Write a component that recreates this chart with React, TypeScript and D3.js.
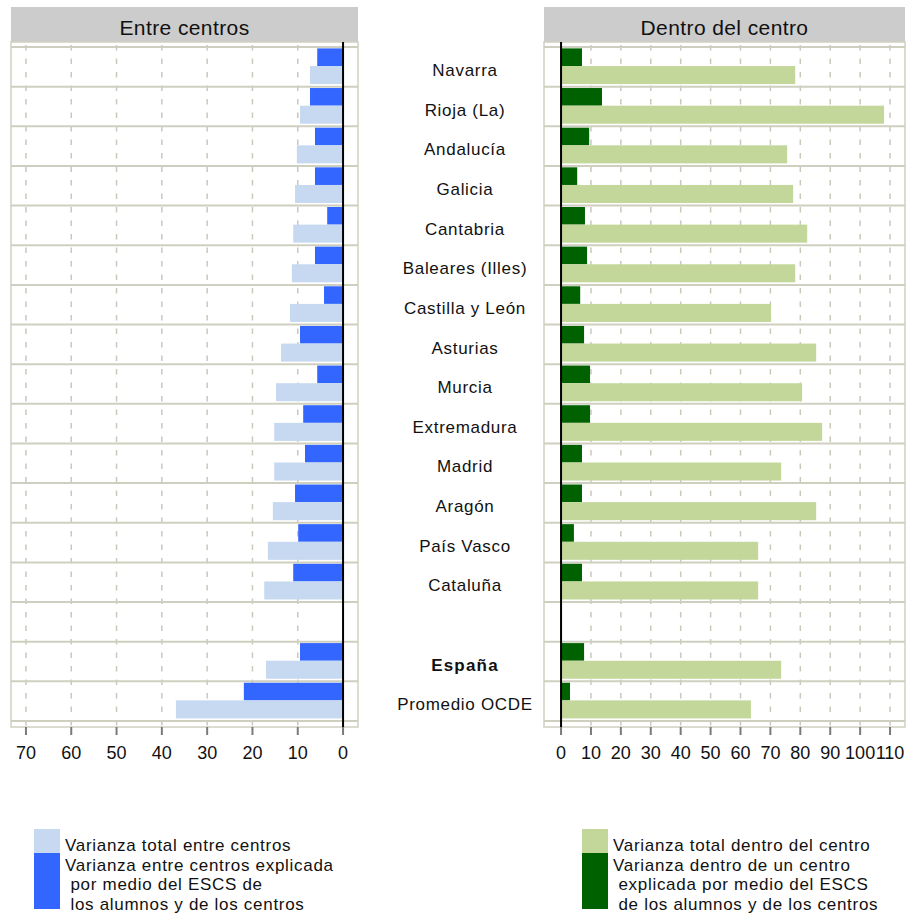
import React from "react";
import * as d3 from "d3";

const regions = [
  "Navarra", "Rioja (La)", "Andalucía", "Galicia", "Cantabria", "Baleares (Illes)",
  "Castilla y León", "Asturias", "Murcia", "Extremadura", "Madrid", "Aragón",
  "País Vasco", "Cataluña", "", "España", "Promedio OCDE",
];
const betweenTotal = [7.3, 9.5, 10.2, 10.6, 11.0, 11.3, 11.7, 13.7, 14.8, 15.2, 15.2, 15.5, 16.6, 17.4, null, 17.0, 36.9];
const betweenExplained = [5.7, 7.3, 6.2, 6.2, 3.5, 6.2, 4.2, 9.5, 5.7, 8.8, 8.4, 10.6, 9.9, 11.0, null, 9.5, 21.9];
const withinTotal = [78.3, 108.0, 75.6, 77.6, 82.3, 78.3, 70.2, 85.3, 80.6, 87.3, 73.6, 85.3, 65.9, 65.9, null, 73.6, 63.5];
const withinExplained = [7.0, 13.7, 9.4, 5.4, 8.0, 8.7, 6.4, 7.7, 9.7, 9.7, 7.0, 7.0, 4.3, 7.0, null, 7.7, 3.0];
const leftTicks = [70, 60, 50, 40, 30, 20, 10, 0];
const rightTicks = [0, 10, 20, 30, 40, 50, 60, 70, 80, 90, 100, 110];
const boldRegion = "España";

const panelTitles = ["Entre centros", "Dentro del centro"];
const legendLeft = ["Varianza total entre centros", "Varianza entre centros explicada", " por medio del ESCS de", " los alumnos y de los centros"];
const legendRight = ["Varianza total dentro del centro", "Varianza dentro de un centro", " explicada por medio del ESCS", " de los alumnos y de los centros"];

const FONT = "'Liberation Sans', Arial, sans-serif";
const GRID = "#c8c8bb";
const ROWLINE = "#cfcfc0";

const C = {
  lightBlue: "#c6d9f0",
  darkBlue: "#3366ff",
  lightGreen: "#c4d79b",
  darkGreen: "#006100",
};

const TOP = 42, BOTTOM = 727;

const y = d3.scaleBand<number>().domain(d3.range(regions.length)).range([47, 721]).padding(0);
const bw = y.bandwidth();

function Panel({ x, x0, x1, ticks, total, explained, light, dark, title }: any) {
  const xs = x;
  const zero = xs(0);
  return (
    <g>
      <rect x={x0} y={7} width={x1 - x0} height={35} fill="#cccccc" />
      <text x={(x0 + x1) / 2} y={35} textAnchor="middle" fontSize={21} fontFamily={FONT} fill="#111" letterSpacing={0.4}>{title}</text>
      <rect x={x0} y={TOP} width={x1 - x0} height={BOTTOM - TOP} fill="white" stroke={ROWLINE} strokeWidth={1.5} />
      {ticks.filter((t: number) => t !== 0).map((t: number) => (
        <line key={"g" + t} x1={xs(t)} x2={xs(t)} y1={TOP} y2={BOTTOM} stroke={GRID} strokeWidth={1.5} strokeDasharray="5.5,8" strokeDashoffset={-3} />
      ))}
      {d3.range(regions.length + 1).map((i) => {
        const yy = i < regions.length ? (y(i) as number) : (y(regions.length - 1) as number) + bw;
        return <line key={"r" + i} x1={x0} x2={x1} y1={yy} y2={yy} stroke={ROWLINE} strokeWidth={2} />;
      })}
      {regions.map((r, i) => {
        const t = total[i], e = explained[i];
        if (t == null) return null;
        const by = y(i) as number;
        return (
          <g key={"b" + i}>
            <rect x={Math.min(xs(e), zero)} y={by + bw * 0.035} width={Math.abs(xs(e) - zero)} height={bw * 0.445} fill={dark} />
            <rect x={Math.min(xs(t), zero)} y={by + bw * 0.48} width={Math.abs(xs(t) - zero)} height={bw * 0.455} fill={light} />
          </g>
        );
      })}
      <line x1={zero} x2={zero} y1={TOP} y2={BOTTOM} stroke="#000" strokeWidth={2} />
      {ticks.map((t: number) => (
        <g key={"t" + t}>
          <line x1={xs(t)} x2={xs(t)} y1={BOTTOM} y2={735} stroke="#7a7a7a" strokeWidth={2} />
          <text x={xs(t)} y={759} textAnchor="middle" fontSize={18} fontFamily={FONT} fill="#111">{t}</text>
        </g>
      ))}
    </g>
  );
}

function Legend({ x, lines, light, dark }: any) {
  const baselines = [851, 871, 890, 910];
  return (
    <g>
      <rect x={x} y={829} width={26} height={24} fill={light} />
      <rect x={x} y={853} width={26} height={56} fill={dark} />
      {lines.map((l: string, i: number) => (
        <text key={i} x={x + 31} y={baselines[i]} fontSize={17} fontFamily={FONT} fill="#111" letterSpacing={0.7} style={{ whiteSpace: "pre" }}>{l}</text>
      ))}
    </g>
  );
}

export default function App() {
  const xl = d3.scaleLinear().domain([73.3, -3.3]).range([11, 358]);
  const xr = d3.scaleLinear().domain([-5.7, 115]).range([544, 905]);
  return (
    <svg width={906} height={916} style={{ position: "absolute", left: 0, top: 0, background: "white" }}>
      <rect width={906} height={916} fill="white" />
      <Panel x={xl} x0={11} x1={358} ticks={leftTicks} total={betweenTotal} explained={betweenExplained}
        light={C.lightBlue} dark={C.darkBlue} title={panelTitles[0]} />
      <Panel x={xr} x0={544} x1={905} ticks={rightTicks} total={withinTotal} explained={withinExplained}
        light={C.lightGreen} dark={C.darkGreen} title={panelTitles[1]} />
      {regions.map((r, i) => (
        <text key={"l" + i} x={465} y={(y(i) as number) + bw / 2 + 9.2} textAnchor="middle" fontSize={17}
          fontFamily={FONT} fill="#111" letterSpacing={r === boldRegion ? 1.2 : 0.7} fontWeight={r === boldRegion ? "bold" : "normal"}>{r}</text>
      ))}
      <Legend x={34} lines={legendLeft} light={C.lightBlue} dark={C.darkBlue} />
      <Legend x={582} lines={legendRight} light={C.lightGreen} dark={C.darkGreen} />
    </svg>
  );
}
